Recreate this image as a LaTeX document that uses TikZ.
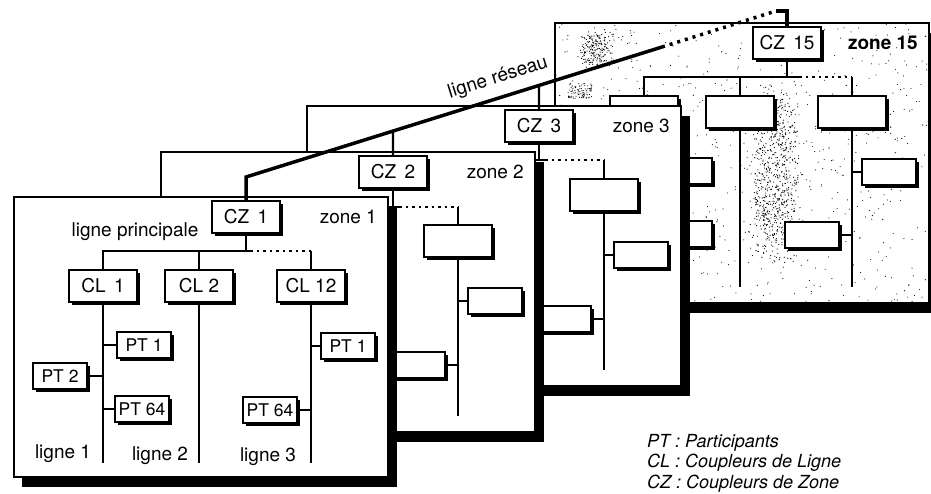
\documentclass[tikz,border=0pt]{standalone}
\usepackage{fontspec}
\setmainfont{TeX Gyre Heros}
\usetikzlibrary{shadows}

\newcommand\boxfont{\fontsize{19}{22}\selectfont}
\newcommand\ptfont{\fontsize{17.5}{20}\selectfont}

\begin{document}
\begin{tikzpicture}[x=1pt, y=-1pt,
	zone/.style={draw, line width=1.2pt, fill=white},
	zoneshadow/.style={fill=black},
	box/.style={draw, line width=1.5pt, fill=white, inner sep=0pt, minimum width=68pt, minimum height=32pt, font=\boxfont,
		drop shadow={shadow xshift=3pt, shadow yshift=-3pt, opacity=1, fill=black}},
	ptbox/.style={box, minimum width=54pt, minimum height=26pt, font=\ptfont},
	bus/.style={line width=2.2pt},
	dots/.style={line width=2.2pt, dash pattern=on 2.5pt off 4pt},
	stub/.style={line width=2pt},
	reseau/.style={line width=3.5pt},
	txt/.style={font=\boxfont, inner sep=0pt}]

	\useasboundingbox (0,0) rectangle (931,493);
	\clip (0,0) rectangle (931,493);

	% ============ ZONE 15 (BACK, STIPPLED) ============

	\def\xd{787} \def\yd{43}

	\fill[zoneshadow] (\xd-224,\yd-10) rectangle (\xd+151,\yd+270);
	\draw[zone] (\xd-232,\yd-20) rectangle (\xd+142,\yd+260);
	% stipple
	\begin{scope}
		\clip (\xd-232,\yd-20) rectangle (\xd+142,\yd+260);
		\pgfmathsetseed{11}
		\foreach \i in {1,...,700} {
			\fill ({\xd-232+374*rnd},{\yd-20+280*rnd}) circle (0.55pt);
		}
		\foreach \i in {1,...,750} {
			\fill ({\xd-12+18*rand+8*rand},{\yd+130+70*rand+25*rand}) circle (0.6pt);
		}
		\foreach \i in {1,...,200} {
			\fill ({\xd-192+14*rand+6*rand},{\yd+5+14*rand+6*rand}) circle (0.6pt);
		}
		\foreach \i in {1,...,90} {
			\fill ({\xd-207+12*rand},{\yd+48+8*rand}) circle (0.55pt);
		}
	\end{scope}
	\draw[zone, fill=none] (\xd-232,\yd-20) rectangle (\xd+142,\yd+260);

	\node[box] (D_CZ) at (\xd,\yd) {CZ \,15};
	\node[txt, font=\boxfont\bfseries, anchor=east] (D_name) at (\xd+131,\yd) {zone 15};
	\foreach \i/\dx in {1/-143, 2/-47, 3/65} {
		\node[box] (D_CL\i) at (\xd+\dx,\yd+69) {};
	}
	\coordinate (D_bus) at (\xd,\yd+34);
	\draw[bus] (D_CZ.south) -- (D_bus);
	\draw[bus] (D_bus) -| (D_CL1.north);
	\draw[bus] (D_bus -| D_CL2.north) -- (D_CL2.north);
	\draw[bus] (D_bus) -- ++(12,0);
	\draw[dots] (D_bus) ++(12,0) -- (D_bus -| D_CL3.north);
	\draw[bus] (D_bus -| D_CL3.north) -- (D_CL3.north);
	\foreach \i in {1,2,3} {
		\draw[bus] (D_CL\i.south) -- ++(0,158);
	}
	\node[ptbox] (D_PT1) at (\xd-102,\yd+128) {};
	\node[ptbox] (D_PT64) at (\xd-102,\yd+191) {};
	\node[ptbox] (D_PT1r) at (\xd+102,\yd+129) {};
	\node[ptbox] (D_PT64r) at (\xd+25,\yd+192) {};
	\draw[stub] (D_PT1.west) -- (D_PT1.west -| D_CL1.south);
	\draw[stub] (D_PT64.west) -- (D_PT64.west -| D_CL1.south);
	\draw[stub] (D_PT1r.west) -- (D_PT1r.west -| D_CL3.south);
	\draw[stub] (D_PT64r.east) -- (D_PT64r.east -| D_CL3.south);

	% ============ ZONE 3 ============

	\def\xc{539} \def\yc{126}

	\fill[zoneshadow] (\xc-224,\yc-10) rectangle (\xc+151,\yc+270);
	\draw[zone] (\xc-232,\yc-20) rectangle (\xc+142,\yc+260);

	\node[box] (C_CZ) at (\xc,\yc) {CZ \,3};
	\node[txt, anchor=east] (C_name) at (\xc+131,\yc) {zone 3};
	\foreach \i/\dx in {1/-143, 2/-47, 3/65} {
		\node[box] (C_CL\i) at (\xc+\dx,\yc+69) {};
	}
	\coordinate (C_bus) at (\xc,\yc+34);
	\draw[bus] (C_CZ.south) -- (C_bus);
	\draw[bus] (C_bus) -| (C_CL1.north);
	\draw[bus] (C_bus -| C_CL2.north) -- (C_CL2.north);
	\draw[bus] (C_bus) -- ++(6,0);
	\draw[dots] (C_bus) ++(6,0) -- (C_bus -| C_CL3.north);
	\draw[bus] (C_bus -| C_CL3.north) -- (C_CL3.north);
	\foreach \i in {1,2,3} {
		\draw[bus] (C_CL\i.south) -- ++(0,158);
	}
	\node[ptbox] (C_PT1r) at (\xc+102,\yc+129) {};
	\node[ptbox] (C_PT64r) at (\xc+25,\yc+193) {};
	\draw[stub] (C_PT1r.west) -- (C_PT1r.west -| C_CL3.south);
	\draw[stub] (C_PT64r.east) -- (C_PT64r.east -| C_CL3.south);

	% ============ ZONE 2 ============

	\def\xb{393} \def\yb{172}

	\fill[zoneshadow] (\xb-224,\yb-10) rectangle (\xb+151,\yb+270);
	\draw[zone] (\xb-232,\yb-20) rectangle (\xb+142,\yb+260);

	\node[box] (B_CZ) at (\xb,\yb) {CZ \,2};
	\node[txt, anchor=east] (B_name) at (\xb+131,\yb) {zone 2};
	\foreach \i/\dx in {1/-143, 2/-47, 3/65} {
		\node[box] (B_CL\i) at (\xb+\dx,\yb+69) {};
	}
	\coordinate (B_bus) at (\xb,\yb+35);
	\draw[bus] (B_CZ.south) -- (B_bus);
	\draw[bus] (B_bus) -| (B_CL1.north);
	\draw[bus] (B_bus -| B_CL2.north) -- (B_CL2.north);
	\draw[bus] (B_bus) -- ++(6,0);
	\draw[dots] (B_bus) ++(6,0) -- (B_bus -| B_CL3.north);
	\draw[bus] (B_bus -| B_CL3.north) -- (B_CL3.north);
	\foreach \i in {1,2,3} {
		\draw[bus] (B_CL\i.south) -- ++(0,158);
	}
	\node[ptbox] (B_PT1r) at (\xb+102,\yb+129) {};
	\node[ptbox] (B_PT64r) at (\xb+25,\yb+193) {};
	\draw[stub] (B_PT1r.west) -- (B_PT1r.west -| B_CL3.south);
	\draw[stub] (B_PT64r.east) -- (B_PT64r.east -| B_CL3.south);

	% ============ ZONE 1 (FRONT) ============

	\def\xa{246} \def\ya{217}

	\fill[zoneshadow] (\xa-224,\ya-10) rectangle (\xa+151,\ya+270);
	\draw[zone] (\xa-232,\ya-20) rectangle (\xa+142,\ya+260);

	\node[box] (A_CZ) at (\xa,\ya) {CZ \,1};
	\node[txt, anchor=east] (A_name) at (\xa+131,\ya) {zone 1};
	\node[txt] (A_main) at (\xa-111,\ya+15) {ligne principale};
	\foreach \i/\dx/\lbl in {1/-143/{CL \,1}, 2/-47/{CL 2}, 3/65/{CL 12}} {
		\node[box] (A_CL\i) at (\xa+\dx,\ya+69) {\lbl};
	}
	\coordinate (A_bus) at (\xa,\ya+34);
	\draw[bus] (A_CZ.south) -- (A_bus);
	\draw[bus] (A_bus) -| (A_CL1.north);
	\draw[bus] (A_bus -| A_CL2.north) -- (A_CL2.north);
	\draw[bus] (A_bus) -- ++(4,0);
	\draw[dots] (A_bus) ++(4,0) -- (A_bus -| A_CL3.north);
	\draw[bus] (A_bus -| A_CL3.north) -- (A_CL3.north);
	\foreach \i in {1,2,3} {
		\draw[bus] (A_CL\i.south) -- ++(0,160);
	}
	% participants
	\node[ptbox] (A_PT1) at (\xa-102,\ya+128) {PT 1};
	\node[ptbox] (A_PT2) at (\xa-186,\ya+159) {PT 2};
	\node[ptbox] (A_PT64) at (\xa-104,\ya+192) {PT 64};
	\node[ptbox] (A_PT1r) at (\xa+102,\ya+129) {PT 1};
	\node[ptbox] (A_PT64r) at (\xa+24,\ya+193) {PT 64};
	\draw[stub] (A_PT1.west) -- (A_PT1.west -| A_CL1.south);
	\draw[stub] (A_PT2.east) -- (A_PT2.east -| A_CL1.south);
	\draw[stub] (A_PT64.west) -- (A_PT64.west -| A_CL1.south);
	\draw[stub] (A_PT1r.west) -- (A_PT1r.west -| A_CL3.south);
	\draw[stub] (A_PT64r.east) -- (A_PT64r.east -| A_CL3.south);
	% line labels
	\node[txt] (A_l1) at (\xa-183,\ya+237) {ligne 1};
	\node[txt] (A_l2) at (\xa-86,\ya+239) {ligne 2};
	\node[txt] (A_l3) at (\xa+22,\ya+240) {ligne 3};

	% ============ LIGNE RESEAU ============

	\coordinate (R_a) at (\xa,\ya-40);
	\coordinate (R_b) at (662,47);
	\coordinate (R_c) at (776,11);
	\draw[reseau] (A_CZ.north) -- (R_a) -- (R_b);
	\draw[reseau, dash pattern=on 3pt off 5pt] (R_b) -- (R_c);
	\draw[reseau] (R_c) -- (R_c -| D_CZ.north) -- (D_CZ.north);
	\draw[bus] (B_CZ.north) -- (intersection of R_a--R_b and B_CZ.north--B_CZ.south);
	\draw[bus] (C_CZ.north) -- (intersection of R_a--R_b and C_CZ.north--C_CZ.south);
	\node[txt, rotate=17.4] (R_label) at (498,78) {ligne réseau};

	% Legend
	\node[txt, font=\fontsize{18}{20.5}\selectfont\itshape, align=left, anchor=north west] (legend) at (647,434)
		{PT : Participants\\CL : Coupleurs de Ligne\\CZ : Coupleurs de Zone};

\end{tikzpicture}
\end{document}
